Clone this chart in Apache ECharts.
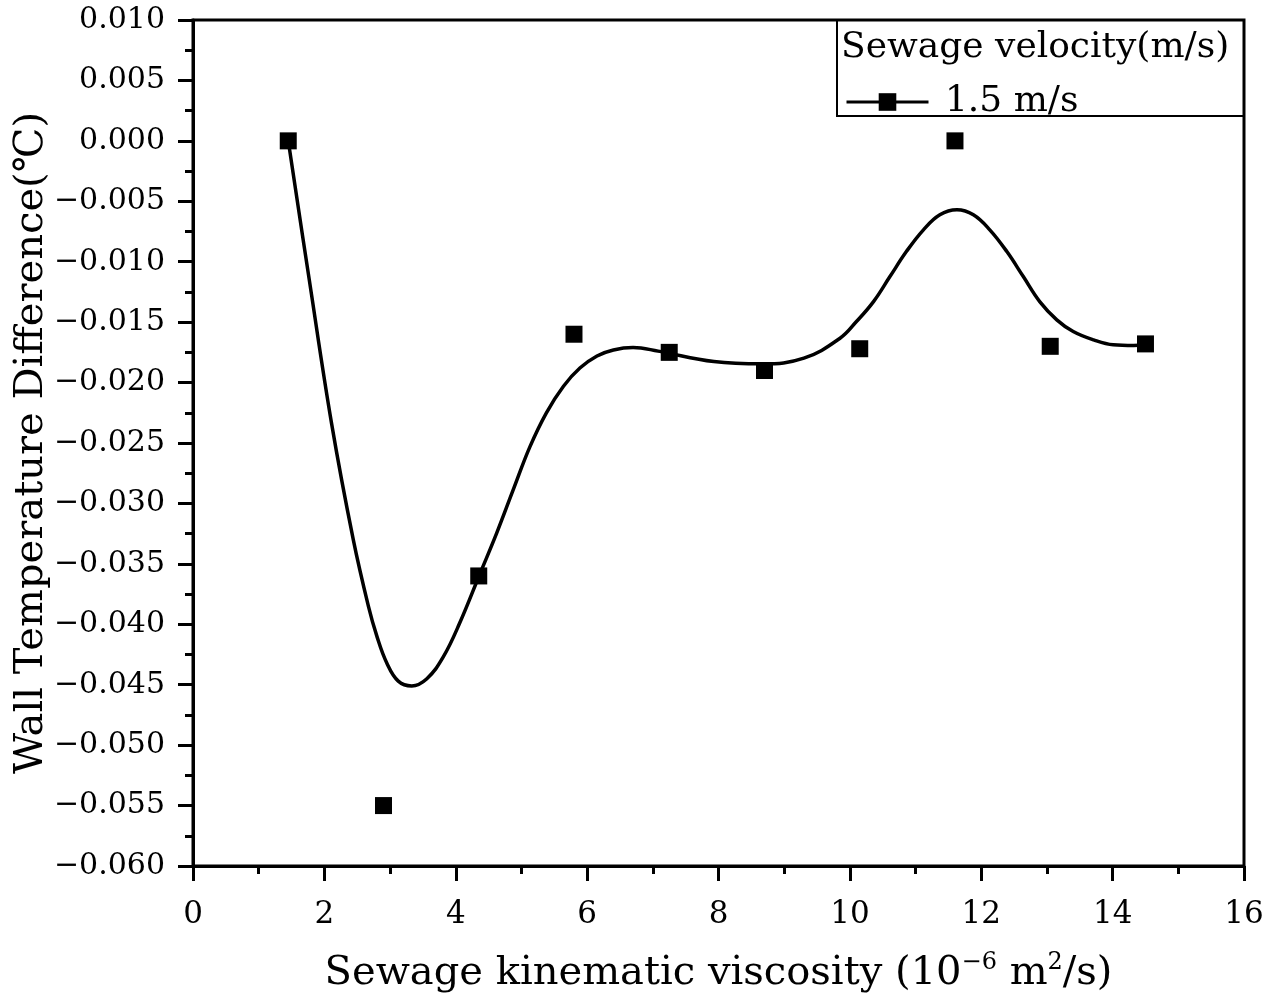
<!DOCTYPE html>
<html>
<head>
<meta charset="utf-8">
<script src="https://cdn.jsdelivr.net/npm/echarts@6/dist/echarts.min.js"></script>
<style>html,body{margin:0;padding:0;background:#fff}#c{width:1264px;height:1000px}</style>
</head>
<body>
<div id="c"></div>
<script>
// measured points
const viscosity = [1.45, 2.9, 4.35, 5.8, 7.25, 8.7, 10.15, 11.6, 13.05, 14.5];
const wallTempDiff = [0, -0.055, -0.036, -0.016, -0.0175, -0.019, -0.0172, 0, -0.017, -0.0168];
// smoothed fit curve
const curveX = [1.45, 1.77, 2.11, 2.44, 2.67, 2.80, 2.95, 3.125, 3.33, 3.56, 3.81, 4.06, 4.37, 4.62, 4.88, 5.13, 5.38, 5.64, 5.89, 6.15, 6.40, 6.70, 7.08, 7.93, 8.67, 9.30, 9.85, 10.10, 10.36, 10.61, 10.86, 11.12, 11.37, 11.63, 11.88, 12.13, 12.39, 12.64, 12.89, 13.15, 13.40, 13.71, 14.01, 14.32, 14.5];
const curveY = [0, -0.0115, -0.0234, -0.0330, -0.0385, -0.0410, -0.0432, -0.0447, -0.0451, -0.0445, -0.0427, -0.0399, -0.0358, -0.0325, -0.0288, -0.0253, -0.0225, -0.0203, -0.0188, -0.0178, -0.0173, -0.0171, -0.0174, -0.01826, -0.01845, -0.01798, -0.01633, -0.01495, -0.01330, -0.01123, -0.00916, -0.00736, -0.00612, -0.00571, -0.00612, -0.00736, -0.00916, -0.01123, -0.01330, -0.01481, -0.01578, -0.01647, -0.01688, -0.01694, -0.0169];
const yTicksMin = -0.06, yTicksMax = 0.01, yStep = 0.005;
const xTicksMin = 0, xTicksMax = 16, xStep = 2;
const legendTitle = 'Sewage velocity(m/s)';
const seriesName = '1.5 m/s';
const xTitle = 'Sewage kinematic viscosity (10{sup|−6} m{sup|2}/s)';
const yTitle = 'Wall Temperature Difference(℃)';

const FONT = '"DejaVu Serif", "Liberation Serif", serif';
const chart = echarts.init(document.getElementById('c'));
chart.setOption({
  backgroundColor: '#fff',
  animation: false,
  grid: {left: 193, right: 20, top: 20, bottom: 134, containLabel: false, outerBoundsMode: 'none',
    show: true, borderColor: '#000', borderWidth: 3, backgroundColor: 'transparent'},
  graphic: [
    {type: 'rect', shape: {x: 837, y: 20, width: 407, height: 96}, style: {fill: 'none', stroke: '#000', lineWidth: 2}, z: 10},
    {type: 'text', x: 841, y: 48, style: {text: legendTitle, font: '36px ' + FONT, fill: '#000', verticalAlign: 'middle'}, z: 10}
  ],
  legend: {
    left: 840, top: 79, itemWidth: 82, itemHeight: 22,
    data: [{name: seriesName}],
    formatter: ' {name}',
    textStyle: {fontFamily: FONT, fontSize: 36, color: '#000'},
    lineStyle: {width: 3, color: '#000', opacity: 1},
    itemStyle: {color: '#000'}
  },
  xAxis: {
    type: 'value', min: xTicksMin, max: xTicksMax, interval: xStep,
    name: xTitle, nameLocation: 'middle', nameGap: 85, nameMoveOverlap: false,
    nameTextStyle: {fontFamily: FONT, fontSize: 40, color: '#000', lineHeight: 46,
      rich: {sup: {fontFamily: FONT, fontSize: 24, color: '#000', verticalAlign: 'top', lineHeight: 46, padding: [0, 0, 16, 0]}}},
    axisLine: {onZero: false, lineStyle: {color: '#000', width: 3}},
    axisTick: {inside: false, length: 15, lineStyle: {width: 3, color: '#000'}},
    minorTick: {show: true, splitNumber: 2, length: 8, lineStyle: {width: 3, color: '#000'}},
    splitLine: {show: false},
    axisLabel: {fontFamily: FONT, fontSize: 31, color: '#000', margin: 33}
  },
  yAxis: {
    type: 'value', min: yTicksMin, max: yTicksMax, interval: yStep,
    name: yTitle, nameLocation: 'middle', nameGap: 141, nameRotate: 90, nameMoveOverlap: false,
    nameTextStyle: {fontFamily: FONT, fontSize: 40, color: '#000'},
    axisLine: {show: true, onZero: false, lineStyle: {color: '#000', width: 3}},
    axisTick: {show: true, inside: false, length: 15, lineStyle: {width: 3, color: '#000'}},
    minorTick: {show: true, splitNumber: 2, length: 8, lineStyle: {width: 3, color: '#000'}},
    splitLine: {show: false},
    axisLabel: {fontFamily: FONT, fontSize: 30, color: '#000', margin: 28,
      formatter: v => { const s = Math.abs(v) < 1e-9 ? '0.000' : v.toFixed(3); return s.replace('-', '−'); }}
  },
  series: [
    {
      name: 'fit', type: 'line', smooth: 0.4, showSymbol: false, symbol: 'none',
      data: curveX.map((x, i) => [x, curveY[i]]),
      lineStyle: {color: '#000', width: 3.5}, z: 2, silent: true
    },
    {
      name: seriesName, type: 'line', symbol: 'rect', symbolSize: 17,
      data: viscosity.map((x, i) => [x, wallTempDiff[i]]),
      itemStyle: {color: '#000'}, lineStyle: {width: 0, color: '#000'}, z: 3
    }
  ]
});
</script>
</body>
</html>
